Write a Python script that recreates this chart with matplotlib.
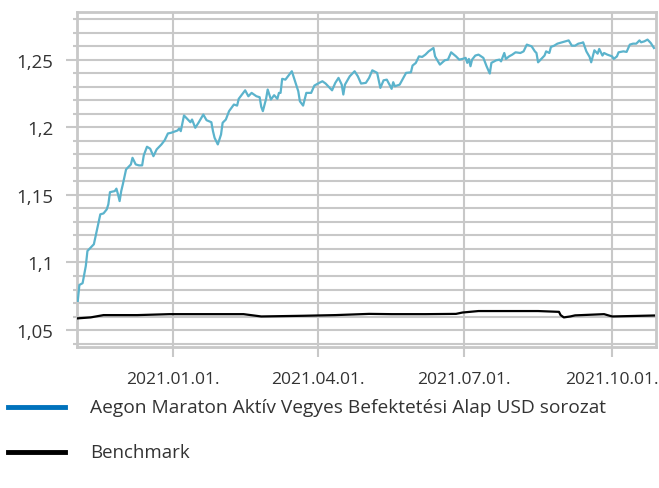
import matplotlib
matplotlib.use("Agg")
import matplotlib.pyplot as plt
import matplotlib.dates as mdates
import matplotlib.ticker as mticker
from matplotlib.lines import Line2D
import pandas as pd

# fund series
fund_dates = [
    "2020-11-03", "2020-11-04", "2020-11-06", "2020-11-08", "2020-11-09", "2020-11-11", "2020-11-13",
    "2020-11-15", "2020-11-17", "2020-11-19", "2020-11-21", "2020-11-22", "2020-11-23", "2020-11-26",
    "2020-11-27", "2020-11-28", "2020-11-29", "2020-11-30", "2020-12-01", "2020-12-03", "2020-12-06",
    "2020-12-07", "2020-12-09", "2020-12-11", "2020-12-13", "2020-12-14", "2020-12-16", "2020-12-18",
    "2020-12-20", "2020-12-22", "2020-12-25", "2020-12-27", "2020-12-29", "2020-12-31",
    "2021-01-04", "2021-01-05", "2021-01-06", "2021-01-08", "2021-01-10", "2021-01-12", "2021-01-13",
    "2021-01-15", "2021-01-17", "2021-01-20", "2021-01-22", "2021-01-25", "2021-01-26", "2021-01-27",
    "2021-01-29", "2021-01-31", "2021-02-01", "2021-02-03", "2021-02-05", "2021-02-08", "2021-02-10",
    "2021-02-11", "2021-02-13", "2021-02-15", "2021-02-17", "2021-02-19", "2021-02-22", "2021-02-24",
    "2021-02-25", "2021-02-26", "2021-02-28", "2021-03-01", "2021-03-03", "2021-03-05", "2021-03-07",
    "2021-03-08", "2021-03-09", "2021-03-10", "2021-03-12", "2021-03-16", "2021-03-18", "2021-03-20",
    "2021-03-21", "2021-03-23", "2021-03-25", "2021-03-28", "2021-03-30", "2021-04-02", "2021-04-04",
    "2021-04-06", "2021-04-08", "2021-04-10", "2021-04-12", "2021-04-14", "2021-04-16", "2021-04-17",
    "2021-04-18", "2021-04-21", "2021-04-24", "2021-04-26", "2021-04-28", "2021-05-01", "2021-05-03",
    "2021-05-05", "2021-05-08", "2021-05-10", "2021-05-12", "2021-05-14", "2021-05-16", "2021-05-17",
    "2021-05-18", "2021-05-19", "2021-05-22", "2021-05-24", "2021-05-26", "2021-05-29", "2021-05-30",
    "2021-06-01", "2021-06-03", "2021-06-05", "2021-06-07", "2021-06-09", "2021-06-12", "2021-06-13",
    "2021-06-16", "2021-06-19", "2021-06-21", "2021-06-23", "2021-06-26", "2021-06-28", "2021-06-30",
    "2021-07-02", "2021-07-03", "2021-07-04", "2021-07-05", "2021-07-06", "2021-07-08", "2021-07-10",
    "2021-07-13", "2021-07-15", "2021-07-17", "2021-07-18", "2021-07-21", "2021-07-23", "2021-07-24",
    "2021-07-26", "2021-07-27", "2021-07-29", "2021-07-31", "2021-08-02", "2021-08-05", "2021-08-07",
    "2021-08-09", "2021-08-12", "2021-08-14", "2021-08-15", "2021-08-16", "2021-08-18", "2021-08-20",
    "2021-08-21", "2021-08-23", "2021-08-24", "2021-08-26", "2021-08-28", "2021-08-31", "2021-09-02",
    "2021-09-04", "2021-09-06", "2021-09-08", "2021-09-10", "2021-09-12", "2021-09-13", "2021-09-15",
    "2021-09-17", "2021-09-18", "2021-09-20", "2021-09-22", "2021-09-23", "2021-09-25", "2021-09-26",
    "2021-09-28", "2021-10-01", "2021-10-02", "2021-10-04", "2021-10-05", "2021-10-08", "2021-10-10",
    "2021-10-12", "2021-10-14", "2021-10-16", "2021-10-18", "2021-10-19", "2021-10-21", "2021-10-23",
    "2021-10-25", "2021-10-27",
]
fund_values = [
    1.0716, 1.0834, 1.0847, 1.0975, 1.1085, 1.1110, 1.1135,
    1.1245, 1.1356, 1.1363, 1.1393, 1.1430, 1.1520, 1.1528,
    1.1546, 1.1504, 1.1454, 1.1528, 1.1578, 1.1688, 1.1725,
    1.1774, 1.1725, 1.1718, 1.1718, 1.1792, 1.1856, 1.1841,
    1.1786, 1.1836, 1.1873, 1.1904, 1.1954, 1.1959,
    1.1976, 1.1991, 1.1971, 1.2087, 1.2062, 1.2037, 1.2057,
    1.1996, 1.2033, 1.2094, 1.2052, 1.2037, 1.1971, 1.1922,
    1.1873, 1.1946, 1.2033, 1.2057, 1.2119, 1.2168, 1.2160,
    1.2210, 1.2242, 1.2273, 1.2229, 1.2254, 1.2229, 1.2222,
    1.2151, 1.2119, 1.2210, 1.2279, 1.2205, 1.2237, 1.2210,
    1.2254, 1.2254, 1.2358, 1.2352, 1.2414, 1.2340, 1.2266,
    1.2192, 1.2160, 1.2254, 1.2254, 1.2308, 1.2328, 1.2340,
    1.2323, 1.2298, 1.2273, 1.2328, 1.2365, 1.2315, 1.2242,
    1.2315, 1.2377, 1.2414, 1.2377, 1.2323, 1.2328, 1.2365,
    1.2421, 1.2402, 1.2291, 1.2347, 1.2352, 1.2308, 1.2284,
    1.2333, 1.2303, 1.2315, 1.2358, 1.2402, 1.2406, 1.2456,
    1.2475, 1.2524, 1.2520, 1.2537, 1.2561, 1.2586, 1.2524,
    1.2463, 1.2495, 1.2500, 1.2554, 1.2524, 1.2500, 1.2505,
    1.2513, 1.2476, 1.2505, 1.2451, 1.2500, 1.2530, 1.2537,
    1.2513, 1.2451, 1.2397, 1.2476, 1.2495, 1.2500, 1.2487,
    1.2549, 1.2505, 1.2524, 1.2537, 1.2554, 1.2549, 1.2561,
    1.2611, 1.2598, 1.2561, 1.2549, 1.2480, 1.2505, 1.2530,
    1.2561, 1.2549, 1.2594, 1.2603, 1.2618, 1.2628, 1.2635,
    1.2642, 1.2603, 1.2603, 1.2618, 1.2623, 1.2628, 1.2561,
    1.2520, 1.2480, 1.2569, 1.2544, 1.2579, 1.2530, 1.2549,
    1.2537, 1.2524, 1.2505, 1.2524, 1.2554, 1.2561, 1.2557,
    1.2611, 1.2618, 1.2618, 1.2642, 1.2628, 1.2635, 1.2648,
    1.2623, 1.2586,
]

# benchmark series
bench_dates = [
    "2020-11-03", "2020-11-11", "2020-11-19", "2020-12-10", "2020-12-30", "2021-02-14",
    "2021-02-25", "2021-03-23", "2021-04-12", "2021-05-03", "2021-05-17", "2021-06-07",
    "2021-06-26", "2021-06-30", "2021-07-10", "2021-07-29", "2021-08-16", "2021-08-29",
    "2021-08-30", "2021-09-01", "2021-09-05", "2021-09-08", "2021-09-26", "2021-10-01",
    "2021-10-27",
]
bench_values = [
    1.0587, 1.0594, 1.0611, 1.0611, 1.0618, 1.0618,
    1.0601, 1.0606, 1.0611, 1.0620, 1.0618, 1.0618,
    1.0620, 1.0630, 1.0641, 1.0641, 1.0641, 1.0635,
    1.0611, 1.0594, 1.0601, 1.0609, 1.0618, 1.0601,
    1.0608,
]

tick_dates = ["2021-01-01", "2021-04-01", "2021-07-01", "2021-10-01"]
fund_label = "Aegon Maraton Aktív Vegyes Befektetési Alap USD sorozat"
bench_label = "Benchmark"

plt.rcParams['font.family'] = ['Open Sans', 'DejaVu Sans']
text_color = "#333333"
grid_color = "#c8c8c8"

fig = plt.figure(figsize=(6.59, 4.89), dpi=100)
ax = fig.add_axes([0.1168, 0.2883, 0.8786, 0.6851])

ax.plot(pd.to_datetime(fund_dates), fund_values, color="#5bb3cc", lw=1.6, zorder=3)
ax.plot(pd.to_datetime(bench_dates), bench_values, color="black", lw=1.6, zorder=3)

ax.set_xlim(pd.Timestamp("2020-11-02 12:00"), pd.Timestamp("2021-10-28 06:00"))
ax.set_ylim(1.0375, 1.2852)

ax.xaxis.set_major_locator(mticker.FixedLocator(mdates.date2num(pd.to_datetime(tick_dates))))
ax.xaxis.set_major_formatter(mdates.DateFormatter("%Y.%m.%d."))
ax.yaxis.set_major_locator(mticker.MultipleLocator(0.05))
ax.yaxis.set_minor_locator(mticker.MultipleLocator(0.01))
ax.yaxis.set_major_formatter(mticker.FuncFormatter(lambda v, p: f"{v:.2f}".rstrip("0").replace(".", ",")))

ax.grid(True, which="both", axis="y", color=grid_color, lw=1.5, zorder=0)
ax.grid(True, which="major", axis="x", color=grid_color, lw=1.5, zorder=0)
for s in ax.spines.values():
    s.set_color(grid_color)
    s.set_linewidth(2)

ax.tick_params(axis="y", which="major", length=8, width=1.5, color=grid_color,
               labelsize=13.4, labelcolor=text_color, pad=9)
ax.tick_params(axis="y", which="minor", length=3, width=1.5, color=grid_color)
ax.tick_params(axis="x", which="major", length=7, width=1.5, color=grid_color,
               labelsize=12.6, labelcolor=text_color, pad=10)

# legend below the chart
fig.add_artist(Line2D([0.012, 0.099], [0.1656, 0.1656], color="#0072bc", lw=3.5))
fig.add_artist(Line2D([0.012, 0.099], [0.0736, 0.0736], color="black", lw=3.5))
fig.text(0.1366, 0.1656, fund_label, fontsize=13.8, color=text_color, va="center", ha="left")
fig.text(0.1366, 0.0736, bench_label, fontsize=13.4, color=text_color, va="center", ha="left")

fig.savefig("out.png", dpi=100)
